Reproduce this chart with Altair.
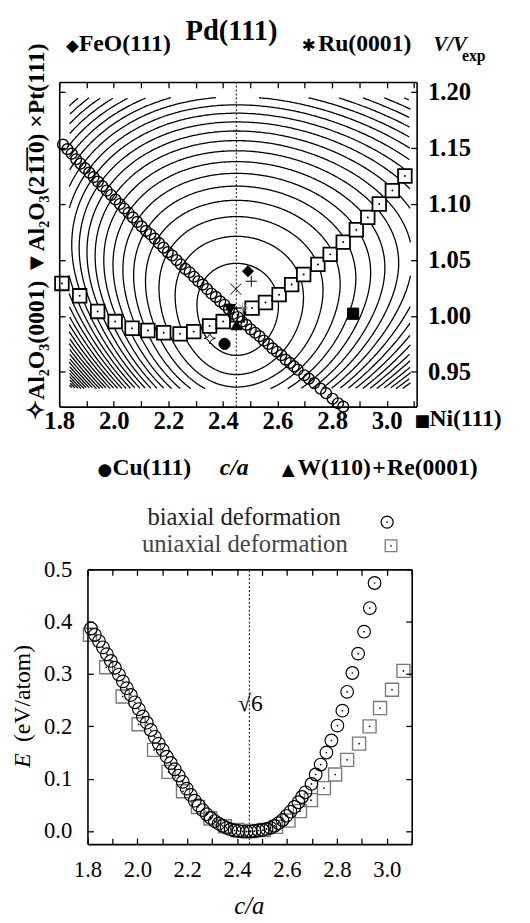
import altair as alt
import numpy as np
import pandas as pd

# ---------------- values ----------------
bi_ca = [1.814, 1.830, 1.846, 1.862, 1.878, 1.894, 1.910, 1.926, 1.942, 1.958,
         1.974, 1.990, 2.006, 2.022, 2.038, 2.054, 2.070, 2.086, 2.102, 2.118,
         2.134, 2.150, 2.166, 2.182, 2.198, 2.214, 2.230, 2.246, 2.262, 2.278,
         2.294, 2.310, 2.326, 2.342, 2.358, 2.374, 2.390, 2.406, 2.422, 2.438,
         2.454, 2.470, 2.486, 2.502, 2.518, 2.534, 2.550, 2.566, 2.582, 2.598,
         2.614, 2.630, 2.646, 2.660, 2.674, 2.698, 2.715, 2.735, 2.758, 2.778,
         2.802, 2.822, 2.841, 2.862, 2.885, 2.909, 2.932, 2.951]
bi_vol = [1.153, 1.149, 1.145, 1.140, 1.136, 1.132, 1.128, 1.124, 1.120, 1.116,
          1.112, 1.108, 1.104, 1.100, 1.096, 1.092, 1.088, 1.084, 1.080, 1.076,
          1.073, 1.069, 1.065, 1.061, 1.057, 1.054, 1.050, 1.046, 1.042, 1.039,
          1.035, 1.031, 1.028, 1.024, 1.020, 1.017, 1.013, 1.010, 1.006, 1.002,
          0.999, 0.995, 0.992, 0.988, 0.985, 0.982, 0.978, 0.975, 0.971, 0.968,
          0.965, 0.961, 0.958, 0.955, 0.952, 0.947, 0.944, 0.940, 0.935, 0.931,
          0.926, 0.922, 0.919, 0.915, 0.910, 0.906, 0.901, 0.898]
bi_energy = [0.387, 0.375, 0.363, 0.351, 0.338, 0.325, 0.312, 0.299, 0.286, 0.273,
             0.260, 0.246, 0.233, 0.219, 0.207, 0.193, 0.180, 0.167, 0.155, 0.142,
             0.130, 0.118, 0.106, 0.094, 0.081, 0.069, 0.058, 0.049, 0.040, 0.032,
             0.025, 0.019, 0.014, 0.010, 0.006, 0.003, 0.001, 0.000, -0.001, -0.001,
             -0.001, 0.000, 0.001, 0.002, 0.004, 0.006, 0.010, 0.015, 0.021, 0.029,
             0.037, 0.046, 0.055, 0.065, 0.074, 0.090, 0.108, 0.127, 0.150, 0.173,
             0.2015, 0.230, 0.266, 0.302, 0.339, 0.381, 0.426, 0.474]

uni_ca = [1.810, 1.875, 1.941, 2.005, 2.067, 2.125, 2.183, 2.243, 2.293, 2.351,
          2.401, 2.453, 2.507, 2.556, 2.606, 2.652, 2.696, 2.748, 2.793, 2.841,
          2.889, 2.931, 2.973, 3.021, 3.067]
uni_vol = [1.029, 1.018, 1.004, 0.995, 0.989, 0.987, 0.985, 0.984, 0.986, 0.991,
           0.995, 1.001, 1.007, 1.012, 1.019, 1.028, 1.037, 1.046, 1.055, 1.066,
           1.077, 1.088, 1.100, 1.112, 1.125]
uni_energy = [0.375, 0.313, 0.257, 0.204, 0.155, 0.113, 0.076, 0.046, 0.024, 0.009,
              0.002, 0.000, 0.002, 0.008, 0.020, 0.038, 0.059, 0.082, 0.108, 0.136,
              0.167, 0.200, 0.235, 0.270, 0.306]

substrates = ["Ni(111)", "Cu(111)", "Al2O3(0001)", "W(110)", "Al2O3(2-1-10)",
              "Pt(111)", "Re(0001)", "FeO(111)", "Ru(0001)"]
sub_ca = [2.877, 2.406, 2.352, 2.450, 2.426, 2.447, 2.504, 2.492, 2.472]
sub_vol = [1.002, 0.975, 0.980, 0.992, 1.006, 1.024, 1.031, 1.040, 1.007]

x_ticks = [1.8, 1.9, 2.0, 2.1, 2.2, 2.3, 2.4, 2.5, 2.6, 2.7, 2.8, 2.9, 3.0, 3.1]
v_ticks = [0.95, 1.00, 1.05, 1.10, 1.15, 1.20]
e_ticks = [0.0, 0.1, 0.2, 0.3, 0.4, 0.5]
SQRT6 = 2.449

# energy-landscape contours (shape)
contour_levels = [0.5, 1.2, 1.9, 2.6, 3.3, 4.0, 4.7, 5.4, 6.1, 6.8, 7.5, 8.2, 8.9,
                  9.6, 10.3, 11.0, 11.7, 12.4, 13.1, 13.8, 14.5, 15.2, 15.9, 16.6,
                  17.3, 18.0, 18.7, 19.4, 20.1, 20.8, 21.5, 22.2, 22.9, 23.6]
C0, V0 = 2.45, 1.003
U_UNIT, W_UNIT = 0.1804, 0.04398
BOX = (1.836, 3.088, 0.935, 1.195)


def energy(u, w):
    a = 0.75 * u ** 2 * (1.0 - 0.07 * u)
    kap = 0.62 - 0.05 * np.tanh(u)
    h = 0.5 * (1.0 + np.exp(-kap * w))
    xc = np.clip(-w, 0, None)
    b = np.where(w >= 0, 0.5 * w ** 2, (np.exp(0.9 * xc) - 1 - 0.9 * xc) / 0.81)
    return a * h + b


NANG = 720
theta = np.linspace(0, 2 * np.pi, NANG, endpoint=False)
cu, sw = np.cos(theta), np.sin(theta)
lv = np.array(contour_levels)[:, None]
lo = np.zeros((len(contour_levels), NANG))
hi = np.full_like(lo, 6.0)
for _ in range(40):
    mid = 0.5 * (lo + hi)
    below = energy(mid * cu, mid * sw) < lv
    lo = np.where(below, mid, lo)
    hi = np.where(below, hi, mid)
rr = 0.5 * (lo + hi)
ok = energy(6.0 * cu, 6.0 * sw)[None, :] > lv
cc = C0 + rr * cu * U_UNIT
vv = V0 + rr * sw * W_UNIT
inside = ok & (cc >= BOX[0]) & (cc <= BOX[1]) & (vv >= BOX[2]) & (vv <= BOX[3])
rows = []
seg = 0
for i in range(len(contour_levels)):
    m = inside[i]
    if not m.any():
        continue
    if m.all():
        runs = [list(range(NANG)) + [0]]
    else:
        start = int(np.argmin(m))
        runs, cur = [], []
        for j in np.roll(np.arange(NANG), -start):
            if m[j]:
                cur.append(int(j))
            elif cur:
                runs.append(cur)
                cur = []
        if cur:
            runs.append(cur)
    for run in runs:
        if len(run) < 2:
            continue
        for k, j in enumerate(run):
            rows.append((round(float(cc[i, j]), 4), round(float(vv[i, j]), 4), seg, k))
        seg += 1
contour_df = pd.DataFrame(rows, columns=["c", "V", "seg", "o"])

bi_df = pd.DataFrame({"c": bi_ca, "V": bi_vol, "E": bi_energy})
bi_top = bi_df[bi_df["V"] >= 0.9185]
uni_df = pd.DataFrame({"c": uni_ca, "V": uni_vol, "E": uni_energy})
sub_df = pd.DataFrame({"name": substrates, "c": sub_ca, "V": sub_vol})

# ---------------- layout ----------------
W, H = 522, 915
TICK = 6
SERIF = "Liberation Serif, Times New Roman, serif"
LBL_EXPR = "round(datum.value*10) % 2 == 0 ? format(datum.value, '.1f') : ''"


def make_axis(orient, edge, kind, values=None, labels=False, label_expr=None, fmt=None,
              pad=4, size=24, weight="bold"):
    if orient == "bottom":
        off = edge - H
    elif orient == "right":
        off = edge - W
    else:
        off = -edge
    kw = dict(orient=orient, grid=False, title=None, labelFlush=False, labelOverlap=False, zindex=1)
    if kind == "domain":
        kw.update(offset=off, domain=True, ticks=False, labels=False,
                  domainColor="black", domainWidth=1.6)
    else:
        kw.update(offset=off - TICK, domain=False, ticks=True, tickSize=TICK, tickWidth=1.3,
                  tickColor="black", values=values, labels=labels)
        if labels:
            kw.update(labelFont=SERIF, labelFontSize=size, labelFontWeight=weight,
                      labelColor="black", labelPadding=pad)
        if label_expr:
            kw["labelExpr"] = label_expr
        if fmt:
            kw["format"] = fmt
    return alt.Axis(**kw)


def txt(s, x, y, size=24, weight="bold", style="normal", align="left",
        baseline="alphabetic", angle=0, color="black"):
    kw = dict(text=s, fontSize=size, fontWeight=weight, fontStyle=style, align=align,
              baseline=baseline, font=SERIF, color=color)
    if angle:
        kw["angle"] = angle
    return alt.Chart(pd.DataFrame({"k": [0]})).mark_text(**kw).encode(
        x=alt.value(x), y=alt.value(y))


def sym(s, x, y, size=17):
    return alt.Chart(pd.DataFrame({"k": [0]})).mark_text(
        text=s, fontSize=size, font="DejaVu Sans", color="black", align="left",
        baseline="alphabetic").encode(x=alt.value(x), y=alt.value(y))


# ---------------- top panel ----------------
T_L, T_R, T_T, T_B = 52, 415, 68, 397.7
xT = alt.Scale(domain=[1.8, 3.11], range=[T_L, T_R], zero=False, nice=False)
yT = alt.Scale(domain=[0.919, 1.209], range=[T_B, T_T], zero=False, nice=False)

contours = alt.Chart(contour_df).mark_line(color="black", strokeWidth=1.3).encode(
    x=alt.X("c:Q", scale=xT, axis=make_axis("bottom", T_B, "ticks", x_ticks, True, LBL_EXPR,
                                           pad=2, size=25)),
    y=alt.Y("V:Q", scale=yT, axis=make_axis("right", T_R, "ticks", v_ticks, True, fmt=".2f",
                                           pad=11, size=25)),
    detail="seg:N", order="o:Q")

rule_top = alt.Chart(pd.DataFrame({"c": [SQRT6], "v0": [0.919], "v1": [1.209]})).mark_rule(
    color="black", strokeDash=[2, 2], strokeWidth=1).encode(
    x=alt.X("c:Q", scale=xT, axis=None), y=alt.Y("v0:Q", scale=yT, axis=None), y2="v1")

sq_top = alt.Chart(uni_df).mark_point(shape="square", size=190, fill="white", stroke="black",
                                      strokeWidth=1.8, opacity=1, fillOpacity=1).encode(
    x=alt.X("c:Q", scale=xT, axis=make_axis("bottom", T_B, "domain")),
    y=alt.Y("V:Q", scale=yT, axis=make_axis("left", T_L, "domain")))

sq_top_dot = alt.Chart(uni_df).mark_circle(size=4, color="black", opacity=1).encode(
    x=alt.X("c:Q", scale=xT, axis=make_axis("top", T_T, "ticks", x_ticks)),
    y=alt.Y("V:Q", scale=yT, axis=make_axis("left", T_L, "ticks", v_ticks)))

circ_top = alt.Chart(bi_top).mark_point(shape="circle", size=120, stroke="black",
                                        strokeWidth=1.4, opacity=1).encode(
    x=alt.X("c:Q", scale=xT, axis=make_axis("top", T_T, "domain")),
    y=alt.Y("V:Q", scale=yT, axis=make_axis("right", T_R, "domain")))

star4 = "M0,-1 Q0.12,-0.12 1,0 Q0.12,0.12 0,1 Q-0.12,0.12 -1,0 Q-0.12,-0.12 0,-1 Z"
plus = "M-1,0 L1,0 M0,-1 L0,1"
xmark = "M-1,-1 L1,1 M-1,1 L1,-1"
aster = "M-1,0 L1,0 M0,-1 L0,1 M-0.7,-0.7 L0.7,0.7 M-0.7,0.7 L0.7,-0.7"
shapes = ["square", "circle", star4, "triangle-up", "triangle-down", xmark, plus, "diamond", aster]
fills = ["black", "black", "white", "black", "black", "transparent", "transparent", "black", "transparent"]
strokes = ["black", "black", "black", "black", "black", "black", "black", "black", "#9a9a9a"]
sizes = [130, 125, 190, 150, 150, 110, 150, 150, 200]
swidths = [1, 1, 1.3, 1, 1, 2.2, 2.4, 1, 2.4]
markers = alt.Chart(sub_df).mark_point(opacity=1, fillOpacity=1).encode(
    x=alt.X("c:Q", scale=xT, axis=None),
    y=alt.Y("V:Q", scale=yT, axis=None),
    shape=alt.Shape("name:N", scale=alt.Scale(domain=substrates, range=shapes), legend=None),
    fill=alt.Fill("name:N", scale=alt.Scale(domain=substrates, range=fills), legend=None),
    stroke=alt.Stroke("name:N", scale=alt.Scale(domain=substrates, range=strokes), legend=None),
    size=alt.Size("name:N", scale=alt.Scale(domain=substrates, range=sizes), legend=None),
    strokeWidth=alt.StrokeWidth("name:N", scale=alt.Scale(domain=substrates, range=swidths), legend=None))

al2o3 = "Al\u2082O\u2083"
left_text = "\u2727" + al2o3 + "(0001)  \u25BC" + al2o3 + "(21\u03051\u03050)  \u00D7Pt(111)"
top_texts = [
    txt("Pd(111)", 227, 25, size=29, align="center"),
    sym("\u25C6", 59, 37),
    txt("FeO(111)", 72, 37),
    sym("\u2731", 298, 37),
    txt("Ru(0001)", 315, 37),
    txt("V/V", 432, 37, size=21, style="italic"),
    txt("exp", 461, 47, size=16),
    sym("\u25A0", 413, 417),
    txt("Ni(111)", 428, 417),
    sym("\u25CF", 91, 467),
    txt("Cu(111)", 106, 467),
    txt("c/a", 215, 467, style="italic"),
    sym("\u25B2", 278, 467),
    txt("W(110)", 294, 467),
    txt("+", 370, 467),
    txt("Re(0001)", 385, 467),
    txt(left_text, 29.5, 220, angle=270, align="center", baseline="middle"),
]

top = alt.layer(contours, rule_top, sq_top, sq_top_dot, circ_top, markers, *top_texts).resolve_axis(
    x="independent", y="independent")

# ---------------- bottom panel ----------------
B_L, B_R, B_T, B_B = 80.7, 410, 563, 842
xB = alt.Scale(domain=[1.8, 3.1], range=[B_L, B_R], zero=False, nice=False)
yB = alt.Scale(domain=[-0.025, 0.5], range=[B_B, B_T], zero=False, nice=False)

rule_bot = alt.Chart(pd.DataFrame({"c": [SQRT6], "e0": [-0.025], "e1": [0.5]})).mark_rule(
    color="black", strokeDash=[2, 2], strokeWidth=1).encode(
    x=alt.X("c:Q", scale=xB, axis=None), y=alt.Y("e0:Q", scale=yB, axis=None), y2="e1")

sq_bot = alt.Chart(uni_df).mark_point(shape="square", size=175, stroke="#7a7a7a",
                                      strokeWidth=1.4, opacity=1).encode(
    x=alt.X("c:Q", scale=xB, axis=make_axis("bottom", B_B, "ticks", x_ticks, True, LBL_EXPR,
                                           pad=15, size=23, weight="normal")),
    y=alt.Y("E:Q", scale=yB, axis=make_axis("left", B_L, "ticks", e_ticks, True, fmt=".1f",
                                           pad=16, size=23, weight="normal")))

circ_bot = alt.Chart(bi_df).mark_point(shape="circle", size=165, stroke="black",
                                       strokeWidth=1.2, opacity=1).encode(
    x=alt.X("c:Q", scale=xB, axis=make_axis("bottom", B_B, "domain")),
    y=alt.Y("E:Q", scale=yB, axis=make_axis("left", B_L, "domain")))

sq_bot_dot = alt.Chart(uni_df).mark_circle(size=3, color="black", opacity=1).encode(
    x=alt.X("c:Q", scale=xB, axis=make_axis("top", B_T, "domain")),
    y=alt.Y("E:Q", scale=yB, axis=make_axis("right", B_R, "domain")))

circ_bot_dot = alt.Chart(bi_df).mark_circle(size=3, color="black", opacity=1).encode(
    x=alt.X("c:Q", scale=xB, axis=make_axis("top", B_T, "ticks", x_ticks)),
    y=alt.Y("E:Q", scale=yB, axis=make_axis("right", B_R, "ticks", e_ticks)))

sqrt6_lbl = alt.Chart(pd.DataFrame({"c": [2.453], "E": [0.243], "t": ["\u221A6"]})).mark_text(
    font=SERIF, fontSize=24, color="black", baseline="middle", align="center").encode(
    x=alt.X("c:Q", scale=xB, axis=None), y=alt.Y("E:Q", scale=yB, axis=None), text="t:N")

leg_sym = alt.Chart(pd.DataFrame({"k": [0]}))
legend_layers = [
    txt("biaxial deformation", 338, 518, size=25, weight="normal", align="right", color="#222222"),
    txt("uniaxial deformation", 345, 545, size=25, weight="normal", align="right", color="#444444"),
    leg_sym.mark_point(shape="circle", size=150, stroke="black", strokeWidth=1.2, opacity=1).encode(
        x=alt.value(385), y=alt.value(515)),
    leg_sym.mark_circle(size=3, color="black", opacity=1).encode(x=alt.value(385), y=alt.value(515)),
    leg_sym.mark_point(shape="square", size=140, stroke="#7a7a7a", strokeWidth=1.3, opacity=1).encode(
        x=alt.value(389), y=alt.value(539)),
    leg_sym.mark_circle(size=3, color="black", opacity=1).encode(x=alt.value(389), y=alt.value(539)),
    txt("(eV/atom)", 15, 689, size=24, weight="normal", angle=270, align="center", baseline="middle"),
    txt("E", 15, 757, size=24, weight="normal", style="italic", angle=270, align="center",
        baseline="middle"),
    txt("c/a", 245, 913, size=25, weight="normal", style="italic", align="center"),
]

bottom = alt.layer(rule_bot, sq_bot, circ_bot, sq_bot_dot, circ_bot_dot, sqrt6_lbl,
                   *legend_layers).resolve_axis(x="independent", y="independent")

chart = alt.layer(top, bottom).resolve_scale(
    x="independent", y="independent").resolve_axis(
    x="independent", y="independent").properties(
    width=W, height=H, padding=0, autosize=alt.AutoSizeParams(type="none")).configure_view(
    strokeWidth=0)

chart.save("out.html", embed_options={"renderer": "svg", "actions": False})
